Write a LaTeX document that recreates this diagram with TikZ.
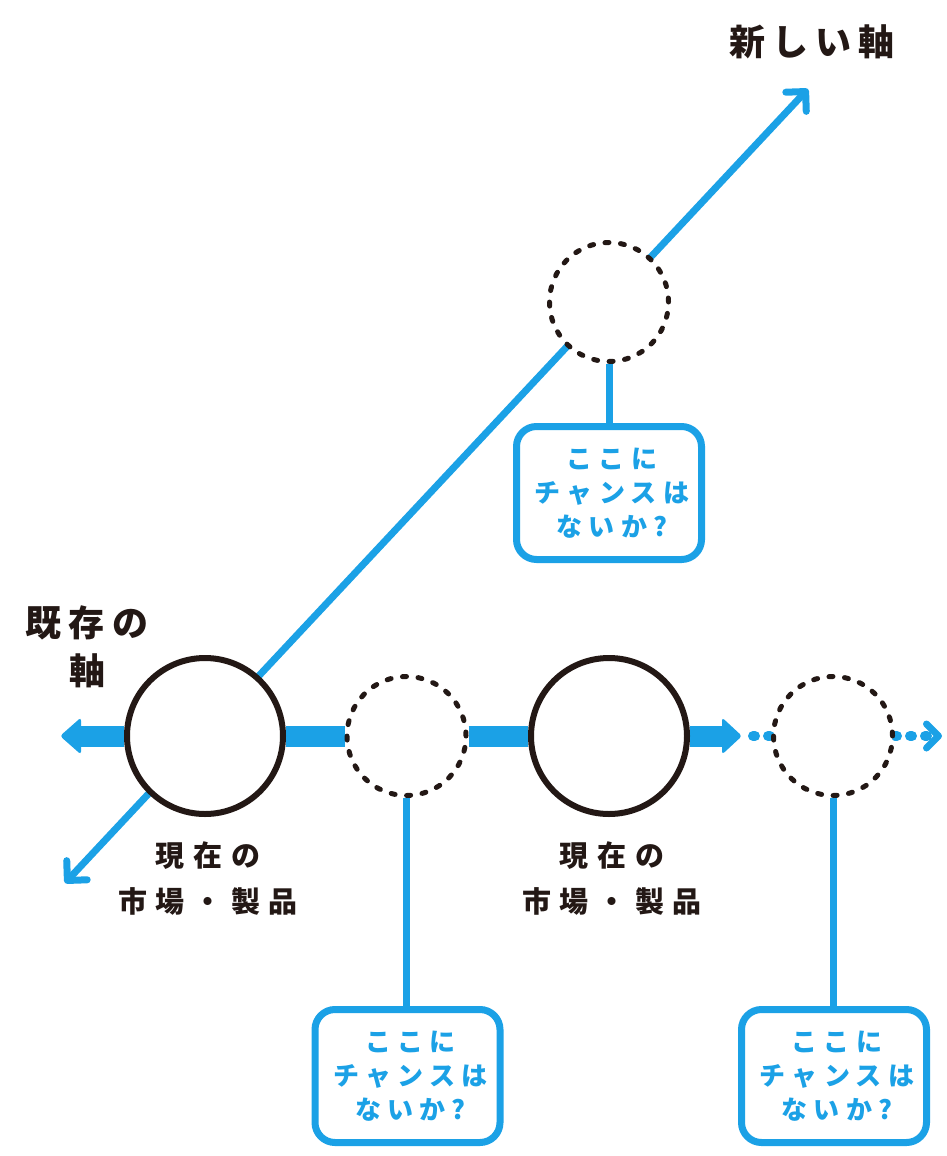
\documentclass[tikz,border=0pt]{standalone}
\usepackage{fontspec}
\newfontfamily\jpA{Noto Sans CJK JP}[LetterSpace=20]
\newfontfamily\jpB{Noto Sans CJK JP}[LetterSpace=30]
\newfontfamily\jpC{Noto Sans CJK JP}[LetterSpace=24]
\usetikzlibrary{arrows.meta,backgrounds}
\definecolor{axblue}{RGB}{27,161,230}
\definecolor{ink}{RGB}{35,24,21}
\newcommand\chancetext{\kern6pt ここに\\\kern6pt チャンスは\\\kern6pt ないか?}
\tikzset{
  bigc/.style={circle, draw=ink, line width=6pt, fill=white, minimum size=156pt, inner sep=0pt},
  dashc/.style={circle, draw=ink, line width=5pt, fill=white, minimum size=119pt, inner sep=0pt,
                dash pattern=on 4pt off 11.58pt, line cap=round},
  chancebox/.style={rectangle, rounded corners=20pt, draw=axblue, line width=7pt, fill=white,
                minimum width=185pt, minimum height=133pt, inner sep=0pt, align=center,
                text=axblue, font=\jpC\bfseries\fontsize{26}{34}\selectfont},
  biglab/.style={inner sep=0pt, align=center, text=ink, font=\jpA\bfseries\fontsize{36}{48}\selectfont},
  midlab/.style={inner sep=0pt, align=center, text=ink, font=\jpB\bfseries\fontsize{29}{46}\selectfont},
  bar/.style={axblue, line width=21pt},
  diag/.style={axblue, line width=7pt, line cap=round,
               arrows={Straight Barb[length=14pt,width=28pt,round]-Straight Barb[length=14pt,width=28pt,round]}},
  conn/.style={axblue, line width=7pt},
  dots/.style={axblue, line width=10pt, line cap=round, dash pattern=on 2pt off 13pt},
}
\begin{document}
\begin{tikzpicture}[x=1pt,y=-1pt]
\useasboundingbox (0,0) rectangle (946,1156);
% circles
\node[bigc]  (c1) at (205,736) {};
\node[dashc] (c2) at (406.5,736) {};
\node[bigc]  (c3) at (609,736) {};
\node[dashc] (c4) at (833,736) {};
\node[dashc] (c5) at (609,302) {};
% boxes
\node[chancebox] (b5) at (609,493) {\chancetext};
\node[chancebox] (b2) at (407.5,1076) {\chancetext};
\node[chancebox] (b4) at (834,1076) {\chancetext};
% labels
\node[biglab] (t1) at (87,647) {既存の\\軸};
\node[biglab] (t2) at (812,42) {新しい軸};
\node[midlab] (t3) at (208,879) {現在の\\市場・製品};
\node[midlab] (t4) at (612,879) {現在の\\市場・製品};
% axis coordinates
\coordinate (dl) at (65,883);
\coordinate (dr) at (808,89);
\coordinate (la) at (80,736);
\coordinate (ra) at (723,736);
\coordinate (d1) at (753,736);
\coordinate (d2) at (942,736);
\begin{scope}[on background layer]
  \draw[diag] (dl) -- (dr);
  \draw[bar] (la) -- (c1);
  \draw[bar] (c1) -- (c2);
  \draw[bar] (c2) -- (c3);
  \draw[bar] (c3) -- (ra);
  \fill[axblue, rounded corners=3pt] ([xshift=1pt]la) ++(0,-18.5) -- ++(-21,18.5) -- ++(21,18.5) -- cycle;
  \fill[axblue, rounded corners=3pt] ([xshift=-1pt]ra) ++(0,-18.5) -- ++(20,18.5) -- ++(-20,18.5) -- cycle;
  \draw[dots] (d1) -- (c4);
  \draw[dots, arrows={-Straight Barb[length=12pt,width=24pt,line width=7pt,round]}] (c4.east) -- (d2);
  \draw[conn] (c5.south) -- (b5.north -| c5.south);
  \draw[conn] (c2.south) -- (b2.north -| c2.south);
  \draw[conn] (c4.south) -- (b4.north -| c4.south);
\end{scope}
\end{tikzpicture}
\end{document}
